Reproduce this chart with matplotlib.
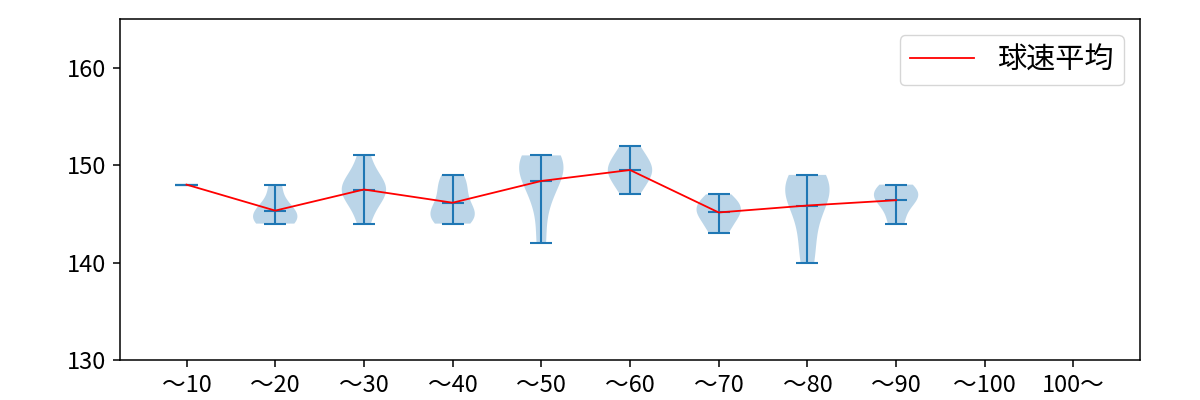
import matplotlib
matplotlib.use("Agg")
import matplotlib.pyplot as plt
import numpy as np

plt.rcParams['font.family'] = ['Noto Sans CJK JP', 'DejaVu Sans']

labels = ["～10", "～20", "～30", "～40", "～50", "～60", "～70", "～80", "～90", "～100", "100～"]

speeds = [
    [148],
    [144, 144, 145, 145, 146, 148],
    [144, 146, 147, 147, 148, 148, 149, 151],
    [144, 145, 145, 145, 147, 148, 149],
    [142, 146, 148, 149, 150, 150, 151, 151],
    [147, 148, 149, 149, 150, 150, 151, 152],
    [143, 144, 145, 145, 146, 146, 147],
    [140, 143, 146, 147, 148, 148, 149],
    [144, 146, 147, 147, 148],
]
empty_vals = [[130], [130]]

fig, ax = plt.subplots(figsize=(12, 4), dpi=100)
fig.subplots_adjust(left=0.1, right=0.95, top=0.9525, bottom=0.1)

pos = np.arange(1, len(speeds) + 1)
ax.violinplot(speeds, positions=pos, showmeans=True, showextrema=True)
ax.violinplot(empty_vals, positions=[10, 11], showmeans=False, showextrema=False)

means = [np.mean(s) for s in speeds]
ax.plot(pos, means, color="red", linewidth=1.3, label="球速平均")

ax.set_xticks(np.arange(1, len(labels) + 1))
ax.set_xticklabels(labels)
ax.set_xlim(0.25, 11.75)
ax.set_ylim(130, 165)
ax.set_yticks([130, 140, 150, 160])
ax.tick_params(labelsize=17, length=5, width=1.1, pad=5)
for sp in ax.spines.values():
    sp.set_linewidth(1.1)
ax.legend(loc="upper right", fontsize=21, handlelength=2.2, borderaxespad=0.55,
          borderpad=0.35)

fig.savefig("out.png", dpi=100)
plt.close(fig)
